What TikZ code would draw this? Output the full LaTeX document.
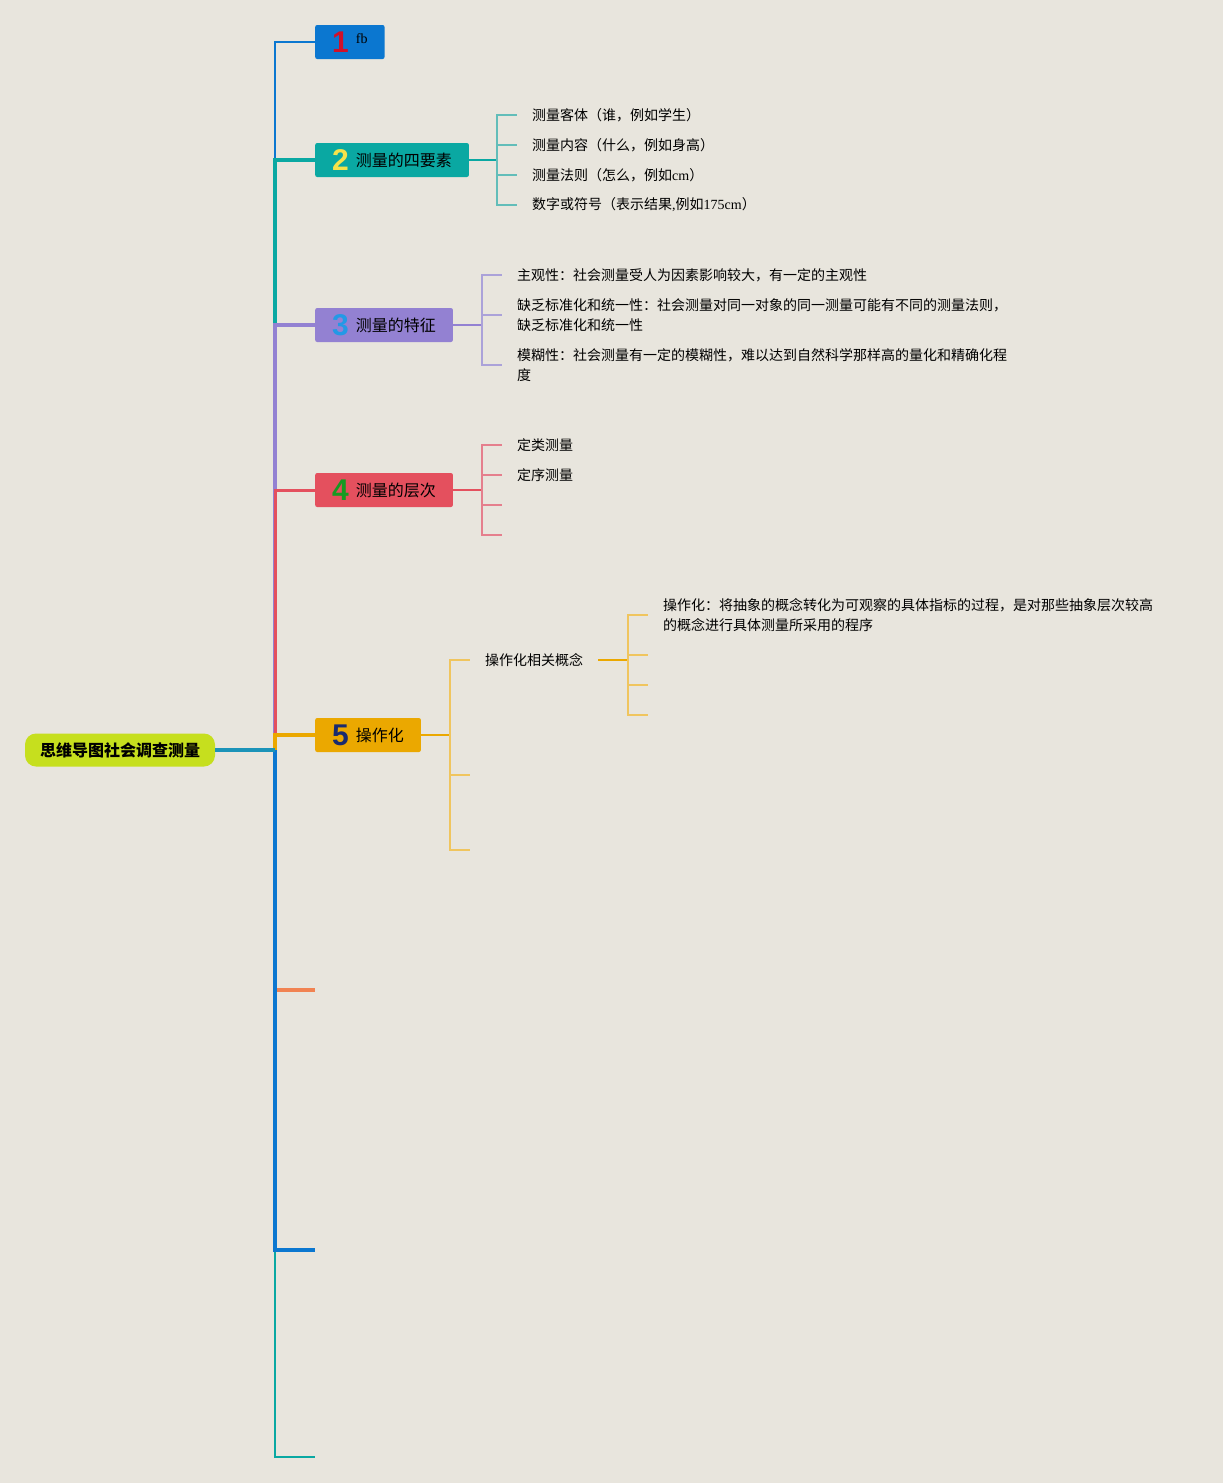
\documentclass[tikz,border=0pt]{standalone}
\usepackage{fontspec}
\setmainfont{Liberation Serif}
\newfontfamily\cjk{Noto Sans CJK SC}
\newfontfamily\numfont{Liberation Sans}
\usetikzlibrary{positioning}
\definecolor{bgc}{HTML}{E8E5DD}
\definecolor{rootc}{HTML}{C6DF1E}
\definecolor{rootln}{HTML}{1B93B8}
\definecolor{c1}{HTML}{0B77D0}
\definecolor{c2}{HTML}{0AA8A2}
\definecolor{c3}{HTML}{9381D2}
\definecolor{c4}{HTML}{E4505E}
\definecolor{c5}{HTML}{EBA800}
\definecolor{c6}{HTML}{F18352}
\definecolor{s2}{HTML}{62BDB9}
\definecolor{s3}{HTML}{ABA2D9}
\definecolor{s4}{HTML}{E57F8D}
\definecolor{s5}{HTML}{F0C55E}
\definecolor{n1}{HTML}{D0102A}
\definecolor{n2}{HTML}{F5E34A}
\definecolor{n3}{HTML}{2399E6}
\definecolor{n4}{HTML}{169A22}
\definecolor{n5}{HTML}{1A2B6E}
\newcommand\numb[2]{{\numfont\bfseries\fontsize{30}{30}\selectfont\color{#1}#2}}
\newcommand\latn[1]{{\rmfamily #1}}

\begin{document}
\begin{tikzpicture}[x=1pt,y=-1pt,
    topic/.style={rectangle,rounded corners=2pt,anchor=west,minimum height=34pt,inner xsep=17pt,inner ysep=0pt,font=\cjk\fontsize{16}{18}\selectfont},
    leaf/.style={anchor=west,inner xsep=15pt,inner ysep=1pt,align=left,font=\cjk\fontsize{14}{20}\selectfont}]
  \fill[bgc] (0,0) rectangle (1223,1483);
  \node[rectangle,rounded corners=11pt,fill=rootc,minimum height=33pt,inner xsep=15pt,font=\cjk\bfseries\fontsize{16}{18}\selectfont] (root) at (120,750) {思维导图社会调查测量};
  \coordinate (jn) at (275,750);
  % main topics
  \begin{scope}[every node/.style={topic}]
    \node[fill=c1] (t1) at (315,42) {\numb{n1}{1}\hspace{7pt}\raisebox{9pt}{\rmfamily\fontsize{14}{16}\selectfont fb}};
    \node[fill=c2] (t2) at (315,160) {\numb{n2}{2}\hspace{7pt}\raisebox{4pt}{测量的四要素}};
    \node[fill=c3] (t3) at (315,325) {\numb{n3}{3}\hspace{7pt}\raisebox{4pt}{测量的特征}};
    \node[fill=c4] (t4) at (315,490) {\numb{n4}{4}\hspace{7pt}\raisebox{4pt}{测量的层次}};
    \node[fill=c5] (t5) at (315,735) {\numb{n5}{5}\hspace{7pt}\raisebox{4pt}{操作化}};
  \end{scope}
  \coordinate (e6) at (315,990);
  \coordinate (e7) at (315,1250);
  \coordinate (e8) at (315,1457);
  % leaves
  \begin{scope}[every node/.style={leaf}]
    \node (c21) at (517,115) {测量客体（谁，例如学生）};
    \node (c22) at (517,145) {测量内容（什么，例如身高）};
    \node (c23) at (517,175) {测量法则（怎么，例如\latn{cm}）};
    \node (c24) at (517,205) {数字或符号（表示结果\latn{,}例如\latn{175cm}）};
    \node (c31) at (502,275) {主观性：社会测量受人为因素影响较大，有一定的主观性};
    \node (c32) at (502,315) {缺乏标准化和统一性：社会测量对同一对象的同一测量可能有不同的测量法则，\\缺乏标准化和统一性};
    \node (c33) at (502,365) {模糊性：社会测量有一定的模糊性，难以达到自然科学那样高的量化和精确化程\\度};
    \node (c41) at (502,445) {定类测量};
    \node (c42) at (502,475) {定序测量};
    \node (c51) at (470,660) {操作化相关概念};
    \node (c511) at (648,615) {操作化：将抽象的概念转化为可观察的具体指标的过程，是对那些抽象层次较高\\的概念进行具体测量所采用的程序};
  \end{scope}
  \coordinate (c43) at (502,505);
  \coordinate (c44) at (502,535);
  \coordinate (c52) at (470,775);
  \coordinate (c53) at (470,850);
  \coordinate (c512) at (648,655);
  \coordinate (c513) at (648,685);
  \coordinate (c514) at (648,715);
  \coordinate (b2) at (497,160);
  \coordinate (b3) at (482,325);
  \coordinate (b4) at (482,490);
  \coordinate (b5) at (450,735);
  \coordinate (b51) at (628,660);
  % trunk
  \draw[c1,line width=2pt] (jn) |- (t1.west);
  \draw[c2,line width=4.5pt] (jn) |- (t2.west);
  \draw[c3,line width=4.5pt] (jn) |- (t3.west);
  \draw[c4,line width=3pt] (jn) |- (t4.west);
  \draw[c5,line width=3.5pt] (jn) |- (t5.west);
  \draw[c2,line width=2pt] (jn) |- (e8);
  \draw[c6,line width=4pt] (jn) |- (e6);
  \draw[c1,line width=3.5pt] (jn) |- (e7);
  \draw[rootln,line width=3.5pt] (root.east) -- (jn);
  % brackets
  \draw[c2,line width=2pt] (t2.east) -- (b2);
  \foreach \i in {1,...,4} \draw[s2,line width=1.5pt] (b2) |- (c2\i.west);
  \draw[c3,line width=2pt] (t3.east) -- (b3);
  \foreach \i in {1,...,3} \draw[s3,line width=1.5pt] (b3) |- (c3\i.west);
  \draw[c4,line width=2pt] (t4.east) -- (b4);
  \foreach \i in {1,2} \draw[s4,line width=1.5pt] (b4) |- (c4\i.west);
  \foreach \i in {3,4} \draw[s4,line width=1.5pt] (b4) |- (c4\i);
  \draw[c5,line width=2pt] (t5.east) -- (b5);
  \draw[s5,line width=1.5pt] (b5) |- (c51.west);
  \foreach \i in {2,3} \draw[s5,line width=1.5pt] (b5) |- (c5\i);
  \draw[c5,line width=2.5pt] (c51.east) -- (b51);
  \draw[s5,line width=1.5pt] (b51) |- (c511.west);
  \foreach \i in {2,3,4} \draw[s5,line width=1.5pt] (b51) |- (c51\i);
\end{tikzpicture}
\end{document}
